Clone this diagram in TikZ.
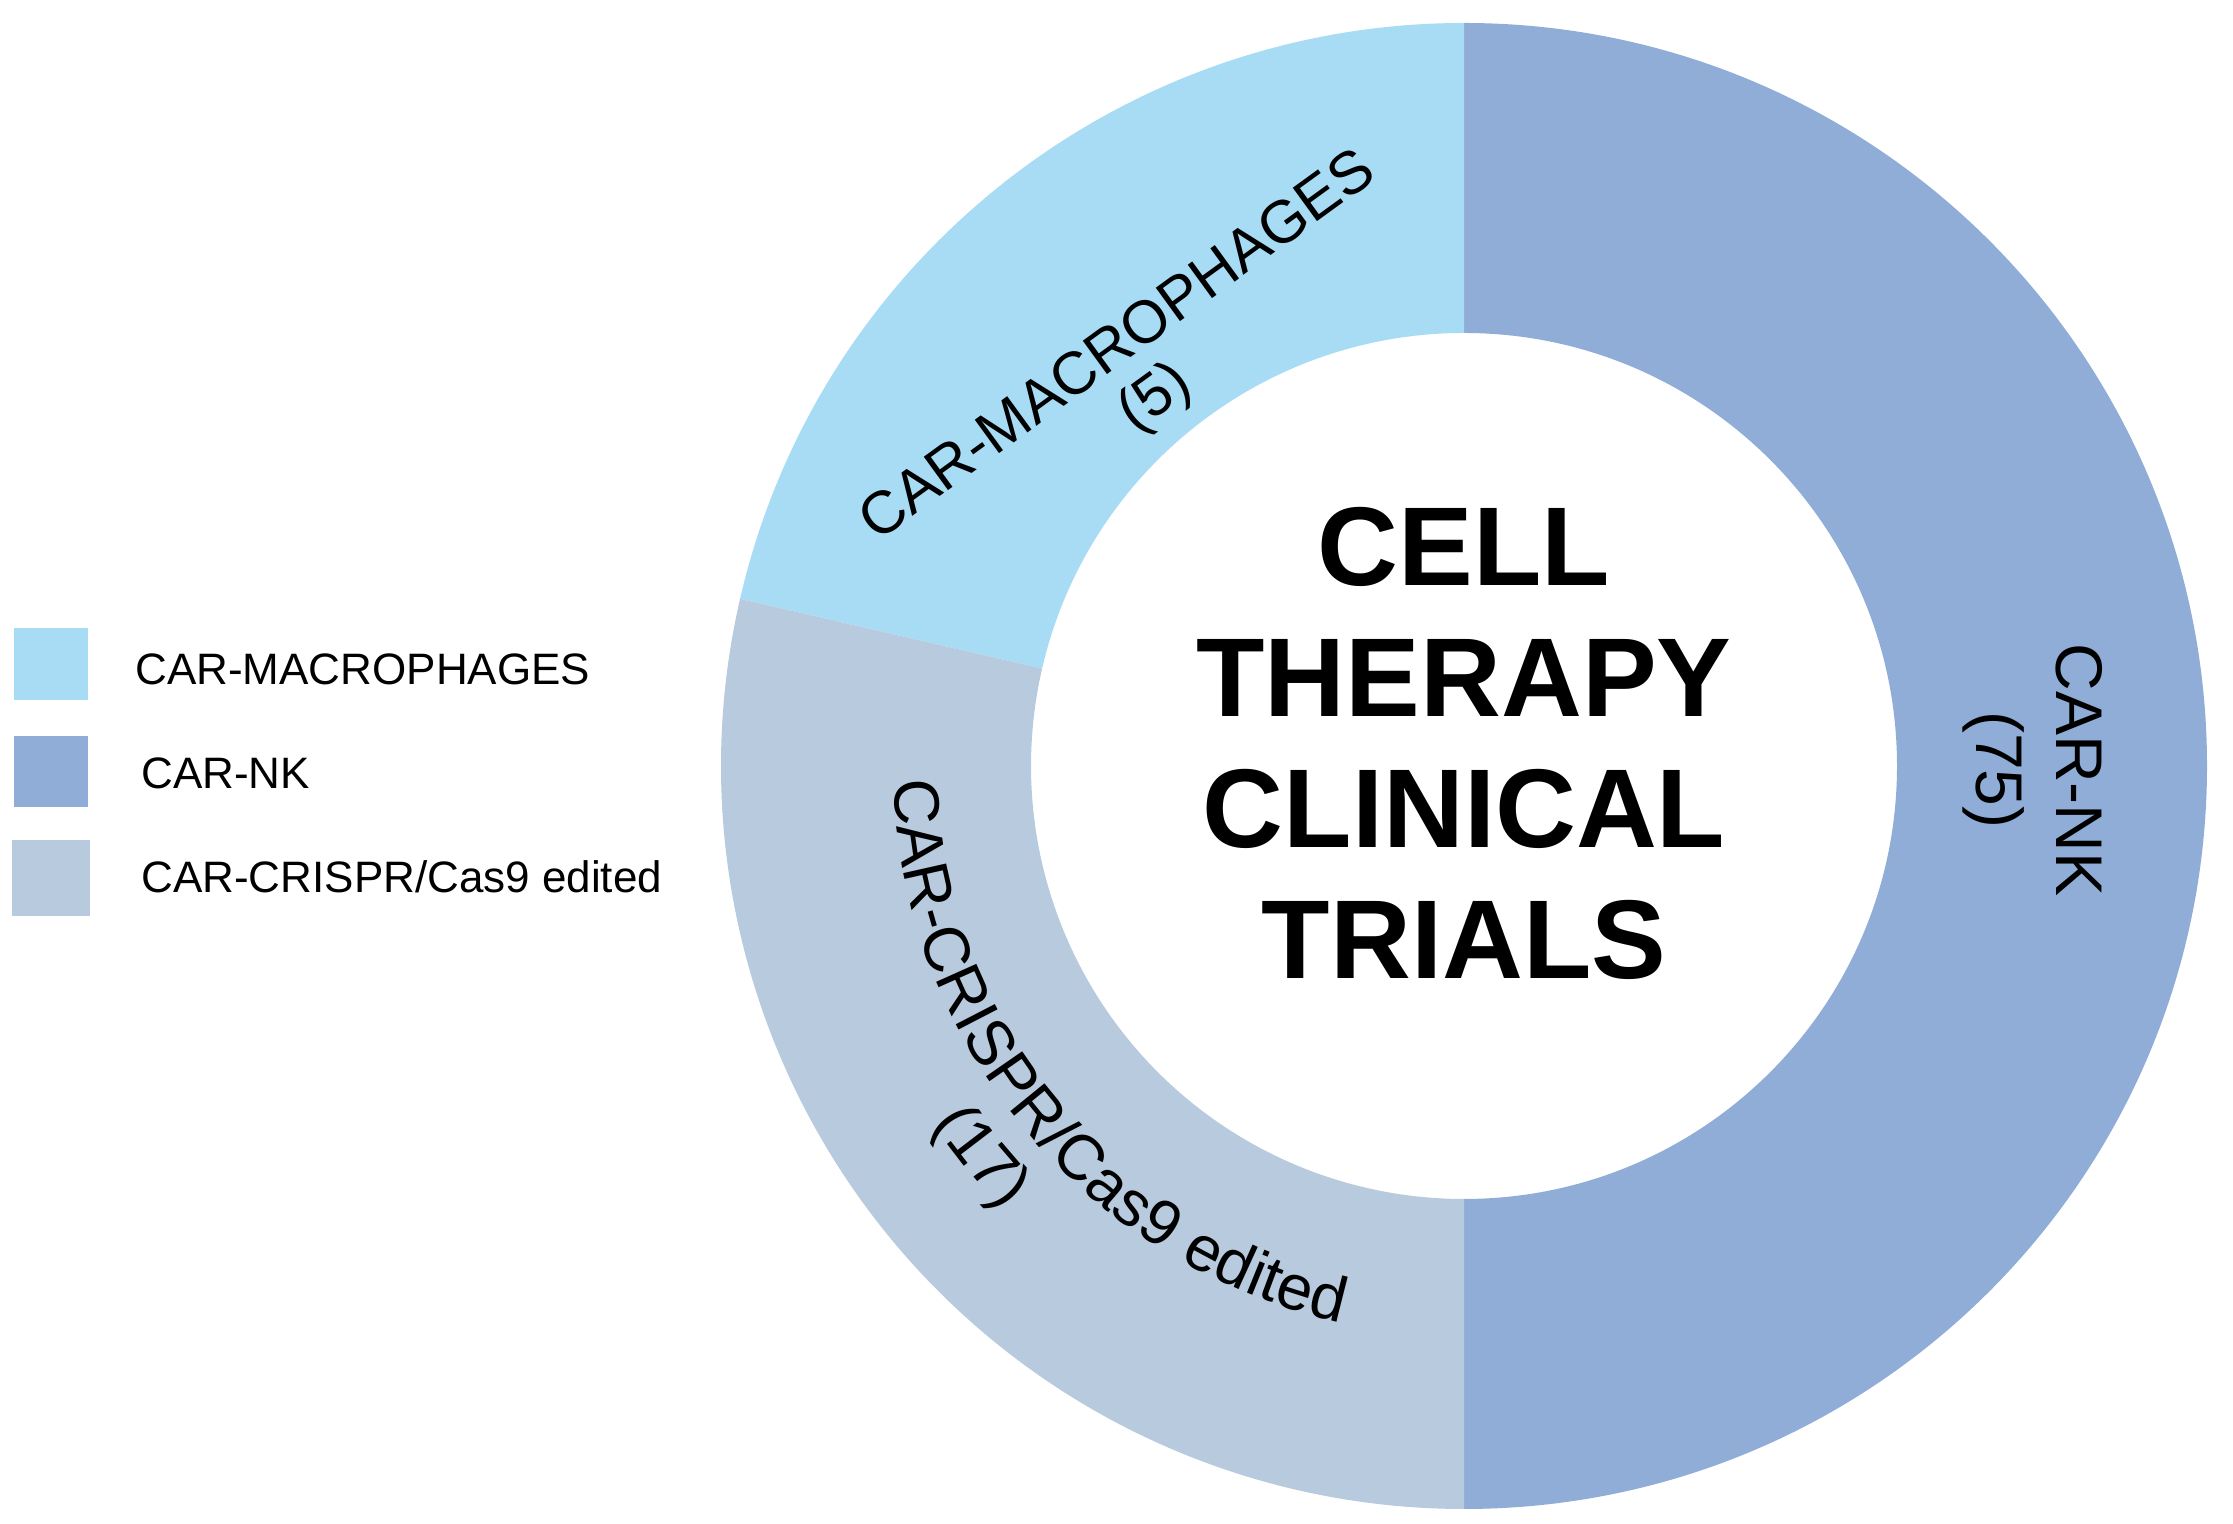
\documentclass[tikz,border=0pt]{standalone}
\usepackage{fontspec}
\setmainfont{Liberation Sans}
\usetikzlibrary{decorations.text,calc}
\definecolor{cmac}{HTML}{A8DCF5}
\definecolor{cnk}{HTML}{8FADD7}
\definecolor{ccr}{HTML}{B8CADD}
\begin{document}
\begin{tikzpicture}[x=0.5pt,y=0.5pt,
  ring/.style={font=\fontsize{30}{32}\selectfont,align=center,inner sep=0pt},
  leg/.style={font=\fontsize{22}{24}\selectfont,anchor=west,inner sep=0pt},
  title/.style={font=\fontsize{56}{65.5}\selectfont\bfseries,align=center}]
\useasboundingbox (0,0) rectangle (2233,1524);
\coordinate (c) at (1464,758);
% segments
\fill[cnk] (c)++(-90:743) arc[start angle=-90,end angle=90,radius=743] -- ++(0,-310) arc[start angle=90,end angle=-90,radius=433] -- cycle;
\fill[cmac] (c)++(90:743) arc[start angle=90,end angle=167,radius=743] -- ($(c)+(167:433)$) arc[start angle=167,end angle=90,radius=433] -- cycle;
\fill[ccr] (c)++(167:743) arc[start angle=167,end angle=270,radius=743] -- ++(0,310) arc[start angle=270,end angle=167,radius=433] -- cycle;
% title
\node[title] (t) at (1464,781) {CELL\\THERAPY\\CLINICAL\\TRIALS};
% ring labels
\node[ring,rotate=36] (mac) at (1138,1150) {CAR-MACROPHAGES\\(5)};
\node[ring,rotate=-90,font=\fontsize{33}{40}\selectfont] (nk) at (2033,754) {CAR-NK\\(75)};
\path[decorate,decoration={text along path,text align=center,
  text={|\fontsize{32}{36}\selectfont|CAR-CRISPR/Cas9 edited}}]
  (c)++(168:570) arc[start angle=168,end angle=271,radius=570];
\path[decorate,decoration={text along path,text align=center,
  text={|\fontsize{32}{36}\selectfont|(17)}}]
  (c)++(200:640) arc[start angle=200,end angle=238,radius=640];
% legend
\fill[cmac] (14,824) rectangle (88,896);
\fill[cnk] (14,717) rectangle (88,788);
\fill[ccr] (12,608) rectangle (90,684);
\node[leg] (l1) at (135,855) {CAR-MACROPHAGES};
\node[leg] (l2) at (141,751) {CAR-NK};
\node[leg] (l3) at (141,647) {CAR-CRISPR/Cas9 edited};
\end{tikzpicture}
\end{document}
